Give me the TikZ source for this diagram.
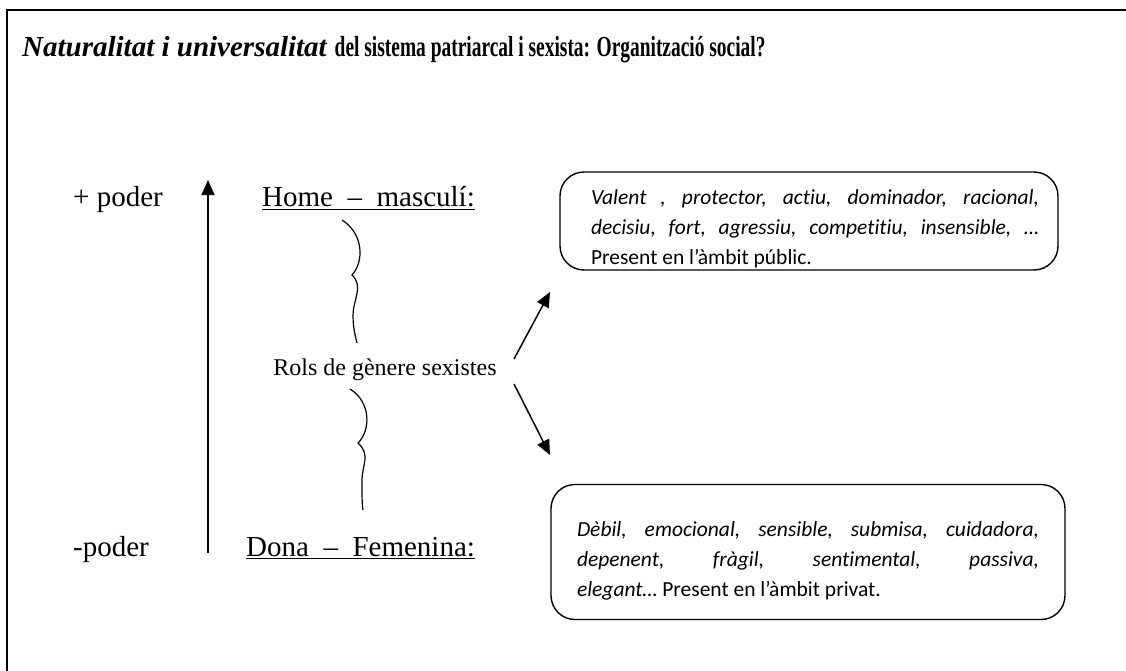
\documentclass[tikz,border=0pt]{standalone}
\usepackage{fontspec}
\usepackage{graphicx}
\setmainfont{Liberation Serif}
\newfontfamily\calibri{Carlito}[Ligatures=NoCommon]
\usetikzlibrary{arrows.meta}

% one line of a justified box
\newcommand{\linia}[2]{\makebox[#1][s]{#2}}

\begin{document}
\begin{tikzpicture}[x=1pt,y=-1pt,
	etiqueta/.style={inner sep=0pt,font=\fontsize{29}{34}\selectfont},
	caixa/.style={draw,line width=1.4pt,rounded corners=24pt,inner sep=0pt,align=left,
		font=\calibri\fontsize{21.5}{30}\selectfont},
	fletxa/.style={line width=1.5pt,-{Triangle[length=15pt,width=13pt]}},
	clau/.style={line width=1.2pt}]
	\useasboundingbox (0,0) rectangle (1126,671);
	% frame (only top and left edges are in view)
	\draw [line width=2pt] (7,671) -- (7,10) -- (1126,10);
	% title
	\node [anchor=base west,inner sep=0pt,font=\bfseries\fontsize{29}{34}\selectfont] (titol) at (22,57)
		{\textit{Naturalitat i universalitat} \scalebox{0.67}[1]{del sistema patriarcal i sexista: Organització social?}};

	% power axis
	\node [etiqueta,anchor=base west] (mes) at (73,207) {+ poder};
	\node [etiqueta,anchor=base west] (menys) at (73,556) {-poder};
	\coordinate (baix) at (208,553);
	\coordinate (dalt) at (208,180);
	\draw [fletxa] (baix) -- (dalt);

	% genders
	\node [etiqueta,anchor=base west] (home) at (262,207) {\underline{Home \ – \ masculí:}};
	\node [etiqueta,anchor=base west] (dona) at (246,556) {\underline{Dona \ – \ Femenina:}};
	\node [inner sep=0pt,font=\fontsize{24}{28}\selectfont] (rols) at (385,370) {Rols de gènere sexistes};

	% braces
	\coordinate (c1) at (342,220);
	\coordinate (c2) at (357,343);
	\coordinate (c3) at (350,389);
	\coordinate (c4) at (363,510);
	\draw [clau] (c1) .. controls (364,234) and (364,262) .. (352,275)
		.. controls (364,286) and (353,300) .. (353,315)
		.. controls (353,330) and (356,338) .. (c2);
	\draw [clau] (c3) .. controls (371,402) and (371,430) .. (358,443)
		.. controls (371,455) and (362,465) .. (362,480)
		.. controls (362,495) and (362,505) .. (c4);

	% trait boxes
	\node [caixa,minimum width=498pt,minimum height=98pt] (masc) at (809,221)
		{\rule{0pt}{30pt}\hspace*{12pt}\itshape\linia{448pt}{Valent , protector, actiu, dominador, racional,}\\
		\hspace*{12pt}\itshape\linia{448pt}{decisiu, fort, agressiu, competitiu, insensible, …}\\
		\hspace*{12pt}Present en l’àmbit públic.};
	\node [caixa,minimum width=514pt,minimum height=135pt] (fem) at (808,552)
		{\rule{0pt}{42pt}\itshape\linia{462pt}{Dèbil, emocional, sensible, submisa, cuidadora,}\\
		\itshape\linia{462pt}{depenent, fràgil, sentimental, passiva,}\\
		\textit{elegant…} Present en l’àmbit privat.\rule[-14pt]{0pt}{0pt}};

	% arrows to the boxes
	\coordinate (r1) at (514,359);
	\coordinate (r2) at (514,384);
	\draw [fletxa] (r1) -- (550,292);
	\draw [fletxa] (r2) -- (550,455);
\end{tikzpicture}
\end{document}
